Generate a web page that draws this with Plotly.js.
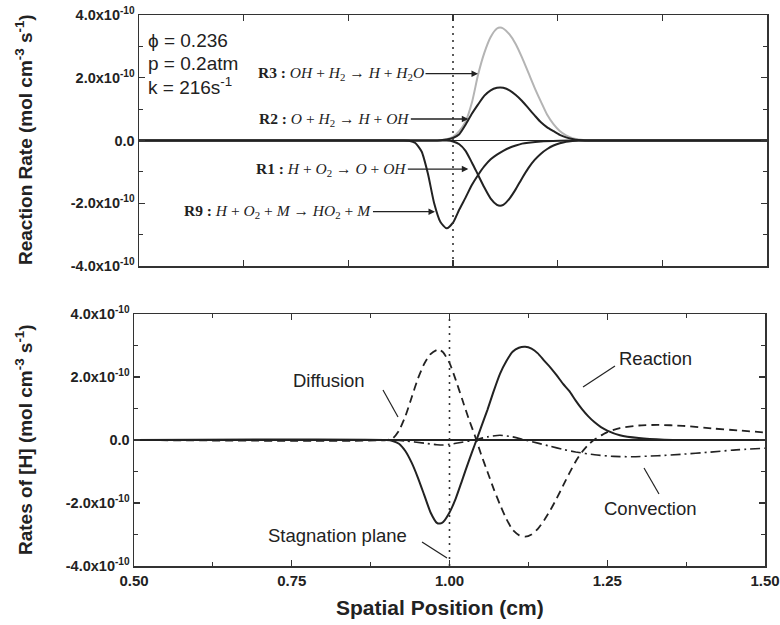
<!DOCTYPE html>
<html>
<head>
<meta charset="utf-8">
<script src="https://cdn.plot.ly/plotly-3.0.1.min.js"></script>
<style>html,body{margin:0;padding:0;background:#fff;}#chart{width:780px;height:625px;}</style>
</head>
<body>
<div id="chart"></div>
<script>
// Values in units of 1e-10 mol cm^-3 s^-1
const SCALE = 1e-10;

// Top panel: reaction rates
const r3X = [0.50,0.97,0.98,0.99,1.00,1.01,1.02,1.03,1.04,1.05,1.06,1.07,1.075,1.08,1.09,1.10,1.11,1.12,1.13,1.14,1.15,1.16,1.17,1.18,1.19,1.20,1.21,1.22,1.50];
const r3Y = [0,0,0.01,0.04,0.12,0.3,0.6,1.2,2.1,2.8,3.3,3.57,3.6,3.57,3.38,3.07,2.64,2.16,1.68,1.24,0.82,0.52,0.3,0.16,0.07,0.03,0.01,0,0];
const r2X = [0.50,0.97,0.98,0.99,1.00,1.01,1.02,1.03,1.04,1.05,1.06,1.07,1.075,1.08,1.09,1.10,1.11,1.12,1.13,1.14,1.15,1.16,1.17,1.18,1.19,1.20,1.21,1.22,1.50];
const r2Y = [0,0,0.01,0.03,0.08,0.2,0.5,0.85,1.15,1.43,1.6,1.68,1.69,1.68,1.6,1.45,1.26,1.03,0.8,0.58,0.42,0.3,0.18,0.1,0.05,0.015,0,0,0];
const r1X = [0.50,0.97,0.98,0.99,1.00,1.01,1.02,1.03,1.04,1.05,1.06,1.07,1.075,1.08,1.09,1.10,1.11,1.12,1.13,1.14,1.15,1.16,1.17,1.18,1.19,1.20,1.21,1.22,1.50];
const r1Y = [0,0,0,0,-0.03,-0.12,-0.33,-0.7,-1.1,-1.5,-1.85,-2.05,-2.08,-2.05,-1.85,-1.55,-1.2,-0.88,-0.62,-0.42,-0.27,-0.16,-0.09,-0.04,-0.015,0,0,0,0];
const r9X = [0.50,0.92,0.93,0.94,0.95,0.96,0.97,0.98,0.99,1.00,1.01,1.02,1.03,1.04,1.05,1.06,1.07,1.08,1.09,1.10,1.11,1.12,1.14,1.17,1.20,1.50];
const r9Y = [0,0,-0.01,-0.08,-0.35,-1.05,-2.0,-2.6,-2.8,-2.62,-2.2,-1.82,-1.42,-1.1,-0.82,-0.6,-0.45,-0.33,-0.23,-0.16,-0.1,-0.07,-0.03,-0.01,0,0];

// Bottom panel: rates of [H]
const reactionX = [0.50,0.90,0.91,0.92,0.93,0.94,0.95,0.96,0.97,0.98,0.985,0.99,1.00,1.01,1.02,1.03,1.04,1.05,1.06,1.07,1.08,1.09,1.10,1.11,1.12,1.13,1.14,1.15,1.16,1.17,1.18,1.19,1.20,1.21,1.22,1.23,1.24,1.25,1.27,1.30,1.34,1.38,1.50];
const reactionY = [0,0,-0.03,-0.12,-0.35,-0.72,-1.2,-1.75,-2.3,-2.63,-2.65,-2.6,-2.3,-1.85,-1.28,-0.7,-0.15,0.4,0.95,1.55,2.1,2.5,2.8,2.93,2.96,2.9,2.75,2.52,2.3,2.05,1.78,1.55,1.25,0.98,0.75,0.56,0.41,0.3,0.15,0.06,0.01,0,0];
const diffusionX = [0.50,0.90,0.91,0.92,0.93,0.94,0.95,0.96,0.97,0.98,0.985,0.99,1.00,1.01,1.02,1.03,1.04,1.05,1.06,1.07,1.08,1.09,1.10,1.11,1.12,1.13,1.14,1.15,1.16,1.17,1.18,1.19,1.20,1.21,1.22,1.23,1.24,1.25,1.27,1.30,1.33,1.37,1.42,1.46,1.50];
const diffusionY = [0,0,0.05,0.3,0.75,1.35,1.95,2.42,2.73,2.86,2.86,2.78,2.45,1.9,1.3,0.7,0.15,-0.45,-1.0,-1.55,-2.05,-2.5,-2.85,-3.02,-3.07,-3.0,-2.82,-2.55,-2.22,-1.85,-1.45,-1.05,-0.68,-0.38,-0.15,0.02,0.14,0.25,0.38,0.46,0.48,0.45,0.36,0.3,0.24];
const convectionX = [0.50,0.90,0.93,0.96,0.98,0.99,1.00,1.02,1.04,1.06,1.08,1.10,1.12,1.14,1.16,1.18,1.20,1.23,1.26,1.29,1.33,1.37,1.41,1.45,1.50];
const convectionY = [0,0,-0.03,-0.1,-0.15,-0.16,-0.14,-0.07,0,0.1,0.15,0.1,0,-0.1,-0.2,-0.3,-0.38,-0.47,-0.52,-0.53,-0.5,-0.45,-0.39,-0.32,-0.26];

// Tick labels
const yTickVals = [-4, -2, 0, 2, 4];
const yTickText = ['<b>-4.0x10<sup>-10</sup></b>', '<b>-2.0x10<sup>-10</sup></b>', '<b>0.0</b>', '<b>2.0x10<sup>-10</sup></b>', '<b>4.0x10<sup>-10</sup></b>'];
const xTickVals = [0.50, 0.75, 1.00, 1.25, 1.50];
const xTickText = ['<b>0.50</b>', '<b>0.75</b>', '<b>1.00</b>', '<b>1.25</b>', '<b>1.50</b>'];
const stagnationX = 1.0;

const sc = a => a.map(v => v * SCALE);
const DARK = '#222222';
const SANS = 'Liberation Sans, Arial, sans-serif';
const SERIF = 'Liberation Serif, Times New Roman, serif';

function tr(x, y, xa, ya, color, dash, width) {
  return {x: x, y: sc(y), xaxis: xa, yaxis: ya, type: 'scatter', mode: 'lines',
    line: {color: color, width: width || 2, dash: dash || 'solid', shape: 'spline', smoothing: 0.6},
    hoverinfo: 'skip', showlegend: false};
}

const traces = [
  tr(r3X, r3Y, 'x', 'y', '#b4b4b4'),
  tr(r2X, r2Y, 'x', 'y', DARK),
  tr(r1X, r1Y, 'x', 'y', DARK),
  tr(r9X, r9Y, 'x', 'y', DARK),
  tr(reactionX, reactionY, 'x2', 'y2', DARK),
  tr(diffusionX, diffusionY, 'x2', 'y2', DARK, '8px,5px', 1.8),
  tr(convectionX, convectionY, 'x2', 'y2', DARK, '10px,4px,2px,4px', 1.6)
];

const yAxisBase = {
  range: [-4 * SCALE, 4 * SCALE], tickmode: 'array',
  tickvals: yTickVals.map(v => v * SCALE), ticktext: yTickText,
  ticks: 'inside', ticklen: 6, tickwidth: 1.3, tickcolor: '#333',
  minor: {tickmode: 'array', tickvals: [-3, -1, 1, 3].map(v => v * SCALE), ticks: 'inside', ticklen: 4, tickcolor: '#333', tickwidth: 1.2},
  showline: true, mirror: 'ticks', linecolor: '#333', linewidth: 1.5,
  showgrid: false, zeroline: true, zerolinecolor: DARK, zerolinewidth: 1.5,
  tickfont: {family: SANS, size: 14.5, color: '#222'},
  fixedrange: true
};

function yTitle(text, yPx) {
  return {xref: 'paper', yref: 'paper', x: 24 / 780, y: 1 - yPx / 625, xanchor: 'center', yanchor: 'middle',
    textangle: -90, showarrow: false, text: text, font: {family: SANS, size: 19, color: '#222'}};
}
function label(text, xPx, yPx) {
  return {xref: 'paper', yref: 'paper', x: xPx / 780, y: 1 - yPx / 625, xanchor: 'center', yanchor: 'middle',
    showarrow: false, text: text, font: {family: SANS, size: 18.5, color: '#222'}};
}
function cond(text, yPx) {
  return {xref: 'paper', yref: 'paper', x: 146 / 780, y: 1 - yPx / 625, xanchor: 'left', yanchor: 'middle',
    showarrow: false, text: text, font: {family: SANS, size: 19, color: '#222'}};
}
function rlabel(text, x, y, ax) {
  return {xref: 'x', yref: 'y', x: x, y: y * SCALE, ax: ax, ay: 0, xanchor: 'center', yanchor: 'middle',
    showarrow: true, arrowhead: 2, arrowsize: 1, arrowwidth: 1.3, arrowcolor: '#222',
    text: text, font: {family: SERIF, size: 15.5, color: '#222'}};
}
function leader(x0, y0, x1, y1) {
  return {type: 'line', xref: 'paper', yref: 'paper', x0: x0 / 780, y0: 1 - y0 / 625, x1: x1 / 780, y1: 1 - y1 / 625,
    line: {color: '#222', width: 1.2}};
}

const layout = {
  width: 780, height: 625,
  margin: {l: 0, r: 0, t: 0, b: 0},
  paper_bgcolor: '#fff', plot_bgcolor: '#fff',
  showlegend: false,
  xaxis: {
    domain: [139 / 780, 767 / 780], anchor: 'y', range: [0.5, 1.5],
    tickmode: 'linear', tick0: 0.5, dtick: 1 / 6, showticklabels: false,
    ticks: 'inside', ticklen: 6, tickwidth: 1.3, tickcolor: '#333',
    showline: true, mirror: 'ticks', linecolor: '#333', linewidth: 1.5,
    showgrid: false, zeroline: false, fixedrange: true
  },
  yaxis: Object.assign({}, yAxisBase, {domain: [1 - 266 / 625, 1 - 15 / 625], anchor: 'x'}),
  xaxis2: {
    domain: [134 / 780, 765 / 780], anchor: 'y2', range: [0.5, 1.5],
    tickmode: 'array', tickvals: xTickVals, ticktext: xTickText,
    minor: {dtick: 0.125, tick0: 0.5, ticks: 'inside', ticklen: 4, tickcolor: '#333', tickwidth: 1.2},
    ticks: 'inside', ticklen: 6, tickwidth: 1.3, tickcolor: '#333',
    showline: true, mirror: 'ticks', linecolor: '#333', linewidth: 1.5,
    showgrid: false, zeroline: false,
    tickfont: {family: SANS, size: 15, color: '#222'},
    fixedrange: true
  },
  yaxis2: Object.assign({}, yAxisBase, {domain: [1 - 566 / 625, 1 - 314 / 625], anchor: 'x2'}),
  shapes: [
    {type: 'line', xref: 'x', yref: 'y domain', x0: stagnationX, x1: stagnationX, y0: 0, y1: 1,
     line: {color: '#333', width: 1.6, dash: '2px,5px'}},
    {type: 'line', xref: 'x2', yref: 'y2 domain', x0: stagnationX, x1: stagnationX, y0: 0, y1: 1,
     line: {color: '#333', width: 1.6, dash: '2px,5px'}},
    leader(383, 390, 398, 417),
    leader(615, 366, 583, 387),
    leader(644, 468, 659, 494),
    leader(422, 542, 447, 558)
  ],
  annotations: [
    yTitle('<b>Reaction Rate (mol cm<sup>-3</sup> s<sup>-1</sup>)</b>', 140),
    yTitle('<b>Rates of [H] (mol cm<sup>-3</sup> s<sup>-1</sup>)</b>', 440),
    {xref: 'paper', yref: 'paper', x: 440 / 780, y: 1 - 607 / 625, xanchor: 'center', yanchor: 'middle', showarrow: false,
     text: '<b>Spatial Position (cm)</b>', font: {family: SANS, size: 21, color: '#222'}},
    cond('ϕ = 0.236', 41),
    cond('p = 0.2atm', 63),
    cond('k = 216s<sup>-1</sup>', 86),
    rlabel('<b>R3 :</b> <i>OH</i> + <i>H</i><sub>2</sub> → <i>H</i> + <i>H</i><sub>2</sub><i>O</i>', 1.0398, 2.13, -137),
    rlabel('<b>R2 :</b> <i>O</i> + <i>H</i><sub>2</sub> → <i>H</i> + <i>OH</i>', 1.0244, 0.685, -134),
    rlabel('<b>R1 :</b> <i>H</i> + <i>O</i><sub>2</sub> → <i>O</i> + <i>OH</i>', 1.0244, -0.91, -137),
    rlabel('<b>R9 :</b> <i>H</i> + <i>O</i><sub>2</sub> + <i>M</i> → <i>HO</i><sub>2</sub> + <i>M</i>', 0.9713, -2.27, -157),
    label('Diffusion', 329, 380),
    label('Reaction', 655, 358),
    label('Convection', 650, 508),
    label('Stagnation plane', 337, 535)
  ]
};

Plotly.newPlot('chart', traces, layout, {displayModeBar: false, staticPlot: true});
</script>
</body>
</html>
